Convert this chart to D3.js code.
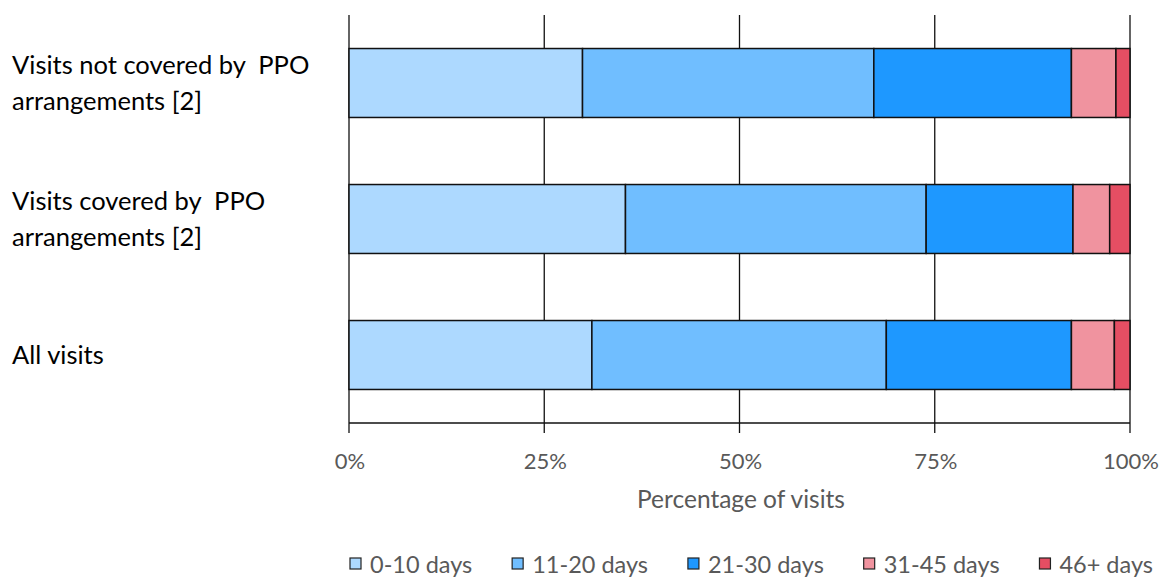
<!DOCTYPE html>
<html>
<head>
<meta charset="utf-8">
<script src="https://cdn.jsdelivr.net/npm/d3@7"></script>
<style>
  html, body { margin: 0; padding: 0; background: #fff; }
  svg { display: block; font-family: Lato, "Open Sans", sans-serif; }
  .cat { white-space: pre; }
</style>
</head>
<body>
<svg id="chart" width="1164" height="577"></svg>
<script>
// Share of visits by waiting time bucket (percent of visits)
const categories = [
  "Visits not covered by  PPO\narrangements [2]",
  "Visits covered by  PPO\narrangements [2]",
  "All visits"
];
const seriesNames = ["0-10 days", "11-20 days", "21-30 days", "31-45 days", "46+ days"];
const days0to10  = [29.9, 35.4, 31.1];
const days11to20 = [37.3, 38.5, 37.7];
const days21to30 = [25.3, 18.8, 23.7];
const days31to45 = [5.7, 4.7, 5.5];
const days46plus = [1.8, 2.6, 2.0];
const tickValues = [0, 25, 50, 75, 100];
const tickLabels = ["0%", "25%", "50%", "75%", "100%"];
const colors = ["#add9ff", "#70beff", "#1e98ff", "#f0939f", "#e54e63"];

const series = [days0to10, days11to20, days21to30, days31to45, days46plus];

const svg = d3.select("#chart");
const plot = { left: 349, right: 1130, top: 15, bottom: 423 };

const x = d3.scaleLinear().domain([0, 100]).range([plot.left, plot.right]);
const y = d3.scaleBand().domain(categories).range([plot.top, plot.bottom]).padding(0);
const barH = y.bandwidth() * 0.507;

// vertical gridlines, extending below the axis as tick marks
svg.append("g").selectAll("line").data(tickValues).join("line")
  .attr("x1", d => x(d)).attr("x2", d => x(d))
  .attr("y1", plot.top).attr("y2", plot.bottom + 10)
  .attr("stroke", "#111").attr("stroke-width", 1.3);

// axis baseline
svg.append("line")
  .attr("x1", x(0)).attr("x2", x(100))
  .attr("y1", plot.bottom).attr("y2", plot.bottom)
  .attr("stroke", "#111").attr("stroke-width", 1.3);

// stacked bars
const stackRows = categories.map((c, i) => {
  let acc = 0;
  return series.map((s, k) => {
    const start = acc; acc += s[i];
    return { cat: c, k, x0: start, x1: acc };
  });
}).flat();

svg.append("g").selectAll("rect").data(stackRows).join("rect")
  .attr("x", d => x(d.x0))
  .attr("width", d => x(d.x1) - x(d.x0))
  .attr("y", d => y(d.cat) + (y.bandwidth() - barH) / 2)
  .attr("height", barH)
  .attr("fill", d => colors[d.k])
  .attr("stroke", "#111").attr("stroke-width", 1.5);

// x tick labels
svg.append("g").selectAll("text").data(tickValues).join("text")
  .attr("x", d => x(d) + 1).attr("y", 469)
  .attr("text-anchor", "middle")
  .attr("font-size", 22).attr("fill", "#595959")
  .text((d, i) => tickLabels[i]);

// x axis title
svg.append("text")
  .attr("x", 741).attr("y", 508)
  .attr("text-anchor", "middle")
  .attr("font-size", 24.5).attr("fill", "#595959")
  .text("Percentage of visits");

// category labels
const catSize = 25.5, lineGap = 36, capH = 18;
categories.forEach(c => {
  const lines = c.split("\n");
  const cy = y(c) + y.bandwidth() / 2;
  const t = svg.append("text").attr("class", "cat")
    .attr("font-size", catSize).attr("fill", "#000");
  lines.forEach((ln, i) => {
    t.append("tspan").attr("x", 12)
      .attr("y", cy + capH / 2 + (i - (lines.length - 1) / 2) * lineGap)
      .text(ln);
  });
});

// legend
const legend = svg.append("g");
const items = seriesNames.map((name, k) => {
  const g = legend.append("g");
  g.append("rect").attr("width", 11).attr("height", 11)
    .attr("y", 558).attr("fill", colors[k])
    .attr("stroke", "#222").attr("stroke-width", 1.2);
  const t = g.append("text").attr("x", 20).attr("y", 573)
    .attr("font-size", 23.5).attr("fill", "#595959").text(name);
  return { g, w: 20 + t.node().getComputedTextLength() };
});
const legStart = 350, legEnd = 1153;
const totalW = d3.sum(items, d => d.w);
const gap = (legEnd - legStart - totalW) / (items.length - 1);
let cx = legStart;
items.forEach(it => { it.g.attr("transform", `translate(${cx},0)`); cx += it.w + gap; });
</script>
</body>
</html>
